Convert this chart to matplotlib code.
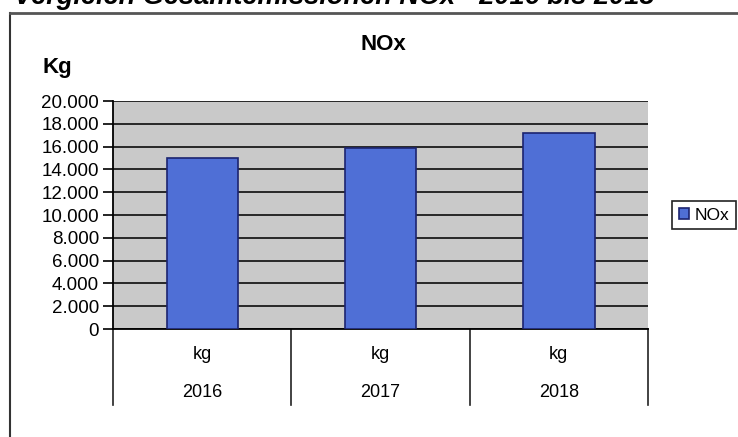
import matplotlib.pyplot as plt
from matplotlib.transforms import blended_transform_factory

years = ['2016', '2017', '2018']
units = ['kg', 'kg', 'kg']
nox = [15000, 15900, 17200]
yticks = [0, 2000, 4000, 6000, 8000, 10000, 12000, 14000, 16000, 18000, 20000]
ytick_labels = ['0', '2.000', '4.000', '6.000', '8.000', '10.000', '12.000',
                '14.000', '16.000', '18.000', '20.000']

plt.rcParams['font.family'] = ['Liberation Sans', 'DejaVu Sans']

fig = plt.figure(figsize=(7.38, 4.37), dpi=100)
fig.patch.set_facecolor('white')

# outer frame of the embedded chart
fig.add_artist(plt.Line2D([10 / 738, 10 / 738], [0, 1 - 13 / 437], color='#333333', lw=1.5))
fig.add_artist(plt.Line2D([10 / 738, 1], [1 - 13 / 437, 1 - 13 / 437], color='#555555', lw=2))

# cut-off heading above the chart
fig.text(14 / 738, 1 - 4 / 437, 'Vergleich Gesamtemissionen NOx - 2016 bis 2018',
         fontsize=19.5, fontweight='bold', fontstyle='italic', va='baseline', ha='left')

ax = fig.add_axes([113 / 738, 1 - 329 / 437, (648 - 113) / 738, (329 - 101) / 437])
ax.set_facecolor('#c9c9c9')

x = list(range(len(years)))
ax.bar(x, nox, width=0.4, color='#4f6fd6', edgecolor='#1c2470', linewidth=1.2,
       label='NOx', zorder=3)

ax.set_xlim(-0.5, len(years) - 0.5)
ax.set_ylim(0, 20000)
ax.set_yticks(yticks)
ax.set_yticklabels(ytick_labels, fontsize=13.5)
ax.tick_params(axis='y', direction='out', length=7, width=1.2, pad=3)
ax.set_xticks([])
ax.yaxis.grid(True, color='#1a1a1a', lw=1.3, zorder=1)
ax.set_axisbelow(True)

for side in ['top', 'right']:
    ax.spines[side].set_visible(False)
ax.spines['left'].set_linewidth(1.3)
ax.spines['bottom'].set_linewidth(1.3)

# two-level category axis
tr = blended_transform_factory(ax.transData, ax.transAxes)
for b in [-0.5, 0.5, 1.5, 2.5]:
    ax.plot([b, b], [0, -0.335], color='#222222', lw=1.2, transform=tr, clip_on=False)
for i in x:
    ax.text(i, -0.11, units[i], transform=tr, ha='center', va='center', fontsize=13)
    ax.text(i, -0.28, years[i], transform=tr, ha='center', va='center', fontsize=13)

fig.text(383 / 738, 1 - 45 / 437, 'NOx', fontsize=16, fontweight='bold', ha='center', va='center')
fig.text(42 / 738, 1 - 67 / 437, 'Kg', fontsize=16, fontweight='bold', ha='left', va='center')

leg = fig.legend(loc='center left', bbox_to_anchor=(663 / 738, 1 - 215 / 437), fontsize=12.5,
                 handlelength=0.6, handleheight=0.6, handletextpad=0.3, borderpad=0.4,
                 fancybox=False, edgecolor='#222222', framealpha=1)
leg.get_frame().set_linewidth(1.2)

plt.savefig('out.png', dpi=100)
